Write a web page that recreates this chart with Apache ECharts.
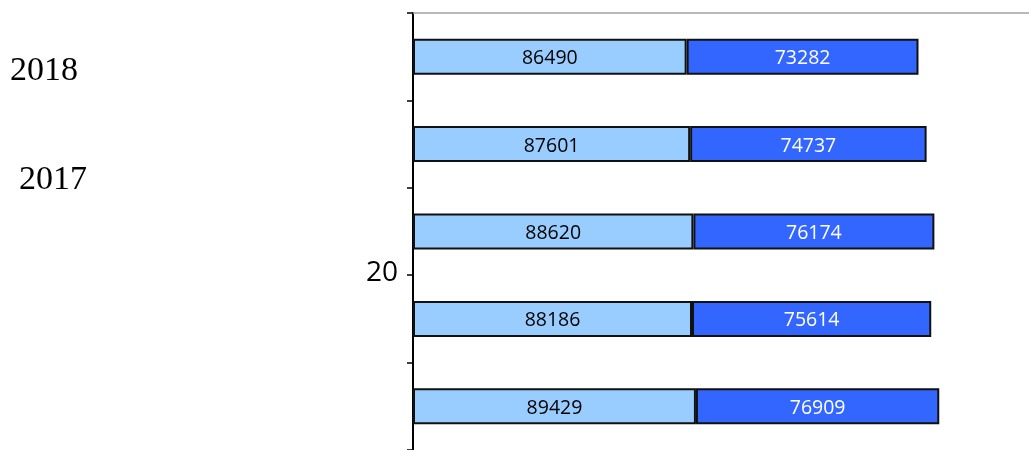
<!DOCTYPE html>
<html>
<head>
<meta charset="utf-8">
<script src="https://cdn.jsdelivr.net/npm/echarts@6/dist/echarts.min.js"></script>
<style>html,body{margin:0;padding:0;background:#fff}#c{width:1029px;height:450px}</style>
</head>
<body>
<div id="c"></div>
<script>
const categories = ['c1', 'c2', 'c3', 'c4', 'c5'];
const seriesA = [86490, 87601, 88620, 88186, 89429];
const seriesB = [73282, 74737, 76174, 75614, 76909];
const sideLabels = ['2018', '2017'];
const axisLabelText = '20';

const chart = echarts.init(document.getElementById('c'), null, {renderer: 'canvas'});
const labelFont = {fontFamily: 'Open Sans', fontSize: 19.5, offset: [0, 2]};
chart.setOption({
  animation: false,
  grid: {left: 413, right: 0, top: 13, bottom: -3, containLabel: false},
  xAxis: {
    type: 'value', position: 'top', min: 0, max: 194700,
    axisLine: {show: true, lineStyle: {color: '#a0a0a0', width: 1.5}},
    axisTick: {show: false}, axisLabel: {show: false}, splitLine: {show: false}
  },
  yAxis: {
    type: 'category', data: categories, inverse: true,
    axisLine: {show: true, lineStyle: {color: '#000', width: 2}},
    axisTick: {show: true, length: 6, lineStyle: {color: '#000', width: 1.5}},
    axisLabel: {show: false}
  },
  series: [
    {
      type: 'bar', stack: 'a', data: seriesA, barWidth: 36,
      itemStyle: {color: '#99CCFF', borderColor: '#111', borderWidth: 2},
      label: {show: true, position: 'inside', color: '#000', ...labelFont}
    },
    {
      type: 'bar', stack: 'a', data: seriesB, barWidth: 36,
      itemStyle: {color: '#3366FF', borderColor: '#111', borderWidth: 2},
      label: {show: true, position: 'inside', color: '#fff', ...labelFont}
    }
  ],
  graphic: [
    {type: 'text', left: 10, top: 54, style: {text: sideLabels[0], font: '34px "Liberation Serif"', fill: '#000'}},
    {type: 'text', left: 19, top: 163, style: {text: sideLabels[1], font: '34px "Liberation Serif"', fill: '#000'}},
    {type: 'text', left: 366, top: 259, style: {text: axisLabelText, font: '28px "Open Sans"', fill: '#000'}}
  ]
});
</script>
</body>
</html>
